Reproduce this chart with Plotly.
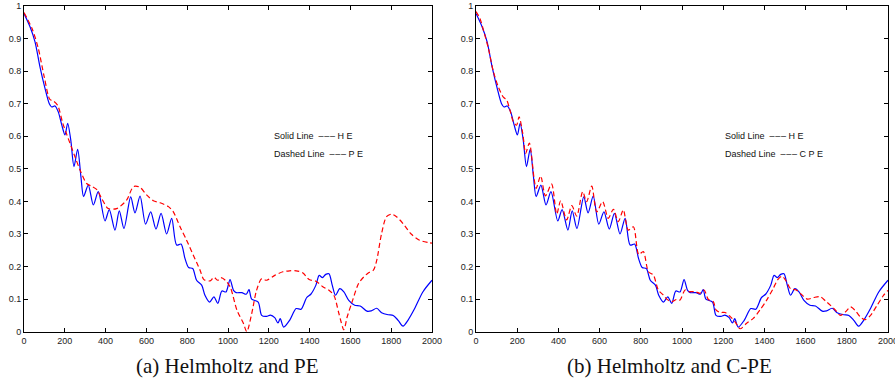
import plotly.graph_objects as go

# Shared Helmholtz (HE) curve
he_x = [0, 29, 54, 78, 103, 124, 136, 152, 168, 185, 201, 214, 229, 245, 263, 279, 292,
        315, 340, 364, 397, 418, 446, 467, 490, 523, 544, 569, 596, 621, 647, 672, 699,
        724, 748, 770, 789, 807, 827, 846, 871, 887, 910, 931, 950, 970, 990, 1010,
        1027, 1040, 1068, 1089, 1103, 1116, 1148, 1165, 1189, 1208, 1229, 1245, 1256,
        1273, 1302, 1334, 1358, 1386, 1406, 1431, 1447, 1463, 1479, 1495, 1511, 1527,
        1548, 1568, 1592, 1621, 1648, 1681, 1702, 1729, 1753, 1785, 1810, 1834, 1858,
        1882, 1915, 1955, 2000]
he_y = [0.977, 0.937, 0.89, 0.814, 0.747, 0.70, 0.69, 0.693, 0.675, 0.635, 0.604, 0.64,
        0.59, 0.507, 0.56, 0.476, 0.415, 0.45, 0.389, 0.43, 0.34, 0.375, 0.312, 0.371,
        0.317, 0.414, 0.365, 0.416, 0.33, 0.368, 0.315, 0.363, 0.30, 0.348, 0.266,
        0.269, 0.225, 0.197, 0.194, 0.158, 0.143, 0.112, 0.091, 0.107, 0.087, 0.125,
        0.122, 0.16, 0.127, 0.12, 0.12, 0.115, 0.129, 0.10, 0.091, 0.05, 0.047, 0.051,
        0.043, 0.027, 0.04, 0.014, 0.035, 0.071, 0.069, 0.105, 0.115, 0.143, 0.173,
        0.166, 0.176, 0.178, 0.143, 0.112, 0.132, 0.122, 0.096, 0.081, 0.079, 0.063,
        0.064, 0.072, 0.058, 0.052, 0.05, 0.035, 0.017, 0.035, 0.071, 0.122, 0.158]

# Parabolic equation (PE) curve, panel (a)
pe_x = [0, 40, 70, 100, 127, 145, 165, 190, 210, 250, 275, 307, 330, 356, 381, 413, 454,
        503, 530, 544, 569, 601, 634, 667, 708, 732, 765, 797, 830, 863, 882, 912, 931,
        950, 965, 987, 1011, 1044, 1076, 1092, 1116, 1140, 1165, 1189, 1229, 1269, 1302,
        1334, 1366, 1398, 1431, 1463, 1495, 1519, 1544, 1568, 1584, 1608, 1640, 1665,
        1689, 1713, 1729, 1753, 1777, 1802, 1826, 1858, 1898, 1939, 1979, 2000]
pe_y = [0.98, 0.93, 0.87, 0.78, 0.713, 0.708, 0.695, 0.64, 0.605, 0.537, 0.496, 0.455,
        0.447, 0.437, 0.409, 0.378, 0.378, 0.404, 0.44, 0.447, 0.443, 0.42, 0.402, 0.396,
        0.384, 0.368, 0.322, 0.281, 0.235, 0.189, 0.16, 0.156, 0.167, 0.158, 0.166,
        0.158, 0.137, 0.066, 0.025, 0.0, 0.055, 0.127, 0.163, 0.158, 0.173, 0.184, 0.187,
        0.187, 0.181, 0.16, 0.155, 0.139, 0.127, 0.112, 0.055, 0.006, 0.045, 0.091,
        0.148, 0.168, 0.181, 0.189, 0.219, 0.302, 0.353, 0.361, 0.353, 0.332, 0.30,
        0.281, 0.274, 0.272]

# Corrected parabolic equation (C-PE) curve, panel (b)
cpe_x = [0, 19, 36, 60, 84, 108, 133, 149, 165, 181, 197, 209, 227, 241, 259, 282, 292,
         314, 337, 367, 392, 411, 440, 465, 489, 518, 537, 562, 586, 615, 642, 667, 691,
         715, 739, 764, 790, 812, 837, 861, 885, 909, 926, 950, 974, 990, 1015, 1036,
         1063, 1087, 1107, 1128, 1152, 1165, 1184, 1209, 1233, 1257, 1282, 1314, 1346,
         1379, 1411, 1443, 1465, 1485, 1503, 1527, 1552, 1576, 1608, 1640, 1673, 1697,
         1721, 1745, 1769, 1794, 1818, 1842, 1866, 1890, 1915, 1947, 1979, 2000]
cpe_y = [0.983, 0.962, 0.926, 0.87, 0.80, 0.752, 0.72, 0.711, 0.68, 0.645, 0.634, 0.66,
         0.609, 0.548, 0.579, 0.47, 0.44, 0.478, 0.417, 0.453, 0.361, 0.402, 0.343, 0.387,
         0.355, 0.43, 0.399, 0.447, 0.368, 0.399, 0.348, 0.376, 0.338, 0.374, 0.312,
         0.322, 0.237, 0.246, 0.184, 0.174, 0.128, 0.113, 0.10, 0.092, 0.099, 0.097,
         0.128, 0.123, 0.123, 0.118, 0.128, 0.099, 0.092, 0.067, 0.059, 0.059, 0.047,
         0.031, 0.009, 0.026, 0.041, 0.067, 0.097, 0.133, 0.16, 0.17, 0.158, 0.132,
         0.129, 0.117, 0.10, 0.105, 0.107, 0.094, 0.081, 0.066, 0.05, 0.061, 0.076,
         0.064, 0.045, 0.037, 0.05, 0.081, 0.112, 0.127]

x_ticks = [0, 200, 400, 600, 800, 1000, 1200, 1400, 1600, 1800, 2000]
y_ticks = [0, 0.1, 0.2, 0.3, 0.4, 0.5, 0.6, 0.7, 0.8, 0.9, 1]
y_tick_text = ["0", "0.1", "0.2", "0.3", "0.4", "0.5", "0.6", "0.7", "0.8", "0.9", "1"]
captions = ["(a) Helmholtz and PE", "(b) Helmholtz and C-PE"]
dashes = "\u2013\u200a\u2013\u200a\u2013"
legend_solid = "Solid Line  " + dashes + " H E"
legend_dashed = ["Dashed Line  " + dashes + " P E", "Dashed Line  " + dashes + " C P E"]

W, H = 895, 390
blue = "#0000ff"
red = "#ff0000"

fig = go.Figure()
fig.add_trace(go.Scatter(x=he_x, y=he_y, mode="lines", xaxis="x", yaxis="y",
                         line=dict(color=blue, width=1.2, shape="spline", smoothing=0.8)))
fig.add_trace(go.Scatter(x=pe_x, y=pe_y, mode="lines", xaxis="x", yaxis="y",
                         line=dict(color=red, width=1.2, dash="5px,3px", shape="spline", smoothing=0.8)))
fig.add_trace(go.Scatter(x=he_x, y=he_y, mode="lines", xaxis="x2", yaxis="y2",
                         line=dict(color=blue, width=1.2, shape="spline", smoothing=0.8)))
fig.add_trace(go.Scatter(x=cpe_x, y=cpe_y, mode="lines", xaxis="x2", yaxis="y2",
                         line=dict(color=red, width=1.2, dash="5px,3px", shape="spline", smoothing=0.8)))

ydom = [1 - 331.7 / H, 1 - 6 / H]
dom1 = [24 / W, 432 / W]
dom2 = [476 / W, 888 / W]
tickfont = dict(family="Liberation Sans, Arial, sans-serif", size=9, color="#222")

def xax(dom, anchor):
    return dict(domain=dom, anchor=anchor, range=[0, 2000], tickvals=x_ticks,
                ticks="inside", ticklen=4, tickcolor="black", showline=True,
                linecolor="black", linewidth=1, mirror="ticks", showgrid=False,
                zeroline=False, tickfont=tickfont, automargin=False,
                ticklabeloverflow="allow")

def yax(anchor):
    return dict(domain=ydom, anchor=anchor, range=[0, 1], tickvals=y_ticks,
                ticktext=y_tick_text, ticks="inside", ticklen=4, tickcolor="black",
                showline=True, linecolor="black", linewidth=1, mirror="ticks",
                showgrid=False, zeroline=False, tickfont=tickfont, automargin=False)

annfont = dict(family="Liberation Sans, Arial, sans-serif", size=9, color="#111")
anns = []
for i, (xl, cx) in enumerate([(272, 227), (723, 669)]):
    anns.append(dict(x=xl / W, y=1 - 136 / H, xref="paper", yref="paper", text=legend_solid,
                     showarrow=False, xanchor="left", yanchor="middle", font=annfont))
    anns.append(dict(x=xl / W, y=1 - 154 / H, xref="paper", yref="paper", text=legend_dashed[i],
                     showarrow=False, xanchor="left", yanchor="middle", font=annfont))
    anns.append(dict(x=cx / W, y=1 - 366 / H, xref="paper", yref="paper", text=captions[i],
                     showarrow=False, xanchor="center", yanchor="middle",
                     font=dict(family="Liberation Serif, serif", size=21, color="#111")))

fig.update_layout(
    width=W, height=H, margin=dict(l=0, r=0, t=0, b=0),
    paper_bgcolor="white", plot_bgcolor="white", showlegend=False,
    xaxis=xax(dom1, "y"), yaxis=yax("x"),
    xaxis2=xax(dom2, "y2"), yaxis2=yax("x2"),
    annotations=anns,
)

fig.write_html("out.html")
